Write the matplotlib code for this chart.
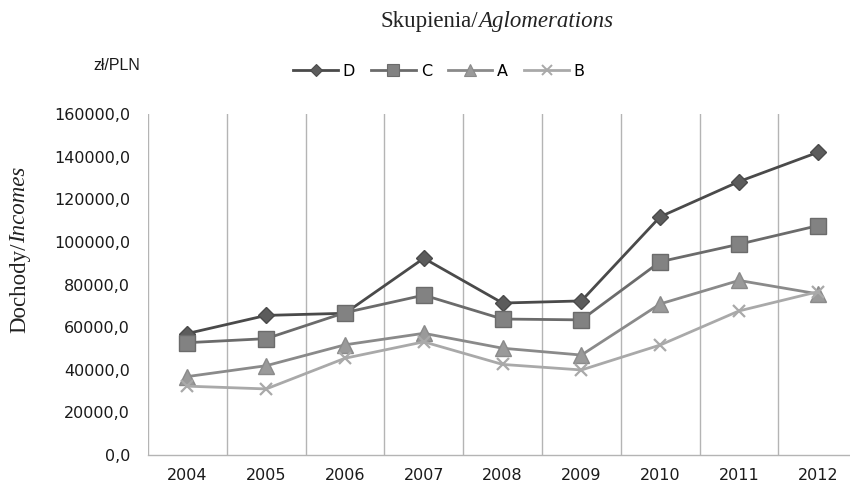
import matplotlib
matplotlib.use("Agg")
import matplotlib.pyplot as plt
from matplotlib.lines import Line2D

years = ["2004", "2005", "2006", "2007", "2008", "2009", "2010", "2011", "2012"]
d_vals = [57000, 65500, 66500, 92300, 71300, 72300, 111800, 128300, 142000]
c_vals = [52700, 54600, 66800, 75000, 63800, 63400, 90700, 98900, 107600]
a_vals = [36800, 41900, 51700, 57100, 50100, 46900, 70900, 81900, 75600]
b_vals = [32300, 31000, 45400, 53100, 42500, 39900, 51600, 67600, 76600]
series_names = ["D", "C", "A", "B"]

W, H = 850, 486
fig = plt.figure(figsize=(W / 100, H / 100), dpi=100)
# plot box in pixels: left 148, bottom 455, top 114, category width ~78.8
x0, x1, y0, y1 = 148, 148 + 9 * 78.8, 455, 114
ax = fig.add_axes([x0 / W, 1 - y0 / H, (x1 - x0) / W, (y0 - y1) / H])

xs = list(range(len(years)))
styles = [
    (d_vals, "D", "#4a4a4a", "#5c5c5c", 8.5),
    (c_vals, "s", "#6b6b6b", "#828282", 12),
    (a_vals, "^", "#8a8a8a", "#9a9a9a", 11),
    (b_vals, "x", "#a9a9a9", "#a9a9a9", 9),
]
handles = []
for (vals, mk, lc, fc, ms), name in zip(styles, series_names):
    ax.plot(xs, vals, color=lc, lw=2.0, marker=mk, markersize=ms,
            markerfacecolor=fc, markeredgecolor=lc, markeredgewidth=1.6 if mk == "x" else 1.0,
            zorder=3, clip_on=False)
    handles.append(Line2D([], [], color=lc, lw=2.0, marker=mk, markersize=ms * 0.75,
                          markerfacecolor=fc, markeredgecolor=lc,
                          markeredgewidth=1.4 if mk == "x" else 0.8))

ax.set_xlim(-0.5, 8.5)
ax.set_ylim(0, 160000)
ax.set_yticks(range(0, 160001, 20000))
ax.set_yticklabels([f"{v},0" for v in range(0, 160001, 20000)])
ax.set_xticks(xs)
ax.set_xticklabels(years)
ax.tick_params(axis="both", length=0, labelsize=11.5, colors="#1a1a1a")
ax.tick_params(axis="y", pad=13)
ax.tick_params(axis="x", pad=9)

# vertical separators between categories
for b in range(len(years)):
    ax.axvline(b - 0.5, color="#b4b4b4", lw=1.0, zorder=1)
for s in ["top", "right", "left"]:
    ax.spines[s].set_visible(False)
ax.spines["bottom"].set_color("#b4b4b4")
ax.spines["bottom"].set_linewidth(1.0)

fig.text(478 / W, 1 - 21 / H, "Skupienia/", family="Liberation Serif", fontsize=16.5,
         ha="right", va="center", color="#222222")
fig.text(478 / W, 1 - 21 / H, "Aglomerations", family="Liberation Serif", style="italic",
         fontsize=16.5, ha="left", va="center", color="#222222")

fig.text(117 / W, 1 - 66 / H, "zł/PLN", family="Liberation Sans", fontsize=11.5,
         ha="center", va="center", color="#1a1a1a")

fig.legend(handles=handles, labels=series_names, loc="center", bbox_to_anchor=(439 / W, 1 - 71 / H),
           ncol=4, frameon=False, fontsize=11.5, handlelength=2.8, handletextpad=0.3,
           columnspacing=1.0)

# y label, two styles, rotated
fig.canvas.draw()
r = fig.canvas.get_renderer()
t1 = fig.text(20 / W, 1 - 333 / H, "Dochody/", family="Liberation Serif", fontsize=16.5,
              rotation=90, ha="center", va="bottom", color="#222222")
ext = t1.get_window_extent(r)
fig.text(20 / W, (ext.y1) / H, "Incomes", family="Liberation Serif", style="italic",
         fontsize=16.5, rotation=90, ha="center", va="bottom", color="#222222")

fig.savefig("out.png", dpi=100, facecolor="white")
